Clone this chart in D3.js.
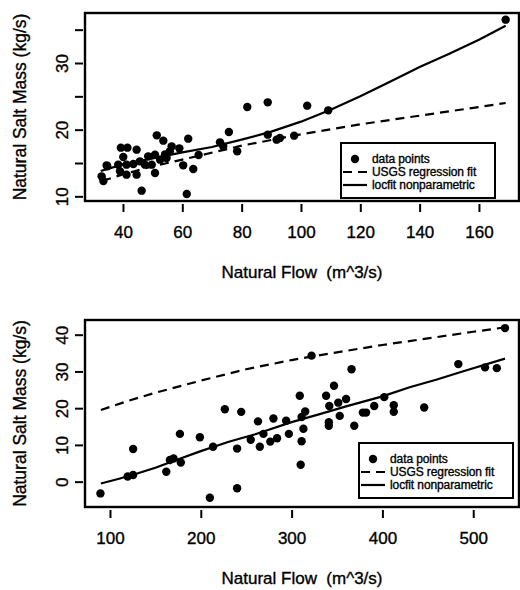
<!DOCTYPE html>
<html>
<head>
<meta charset="utf-8">
<script src="https://cdnjs.cloudflare.com/ajax/libs/d3/7.8.5/d3.min.js"></script>
<style>
    body { margin: 0; background: #ffffff; }
    text { font-family: "Liberation Sans", Arial, sans-serif; fill: #000; white-space: pre; }
</style>
</head>
<body>
<div id="chart"></div>
<script>
(function () {

    // ---- top panel data ----
    var top_flow = [32.8, 33.4, 34.5, 34.7, 38.4, 39.0, 39.3, 40.1, 41.2, 41.2, 41.5, 43.5, 44.6,
        44.6, 45.7, 46.3, 47.4, 48.5, 49.7, 50.8, 50.8, 51.4, 52.5, 53.6, 54.2, 54.7, 55.8,
        56.4, 59.0, 60.3, 61.5, 62.0, 63.7, 65.5, 72.7, 73.8, 75.7, 78.5, 81.9, 88.8, 88.8,
        91.8, 92.9, 97.7, 102.1, 109.2, 169.0];
    var top_salt = [13.0, 12.3, 14.65, 14.5, 14.75, 13.75, 17.3, 15.9, 14.75, 13.25, 17.3, 14.85, 17.0,
        13.25, 15.25, 10.85, 14.75, 16.0, 14.75, 16.25, 13.5, 19.15, 15.5, 18.35, 16.3, 15.75, 16.75,
        17.5, 17.2, 14.65, 10.35, 18.65, 14.1, 16.2, 18.1, 17.5, 19.65, 16.75, 23.4, 24.1, 19.25,
        18.5, 18.75, 19.1, 23.6, 22.9, 36.5];
    var top_usgs_x = [33, 40, 50, 60, 80, 100, 120, 140, 160, 169];
    var top_usgs_y = [12.3, 13.3, 14.5, 15.5, 17.6, 19.3, 20.8, 22.1, 23.4, 24.0];
    var top_locfit_x = [32.5, 40, 50, 60, 70, 80, 90, 100, 110, 120, 130, 140, 150, 160, 169];
    var top_locfit_y = [13.8, 14.8, 15.7, 16.6, 17.4, 18.5, 19.7, 21.2, 23.0, 25.0, 27.2, 29.4, 31.4, 33.5, 35.6];
    var top_x_ticks = [40, 60, 80, 100, 120, 140, 160];
    var top_y_ticks = [10, 15, 20, 25, 30, 35];
    var top_y_labels = [10, 20, 30];

    // ---- bottom panel data ----
    var bot_flow = [89.5, 119.5, 125.5, 125.5, 162, 166, 170, 178, 177, 199, 213.5, 210, 240, 240,
        226.5, 244.5, 255, 263, 265, 269, 276.5, 280, 284, 294, 297, 309, 311, 313, 315, 311, 310,
        322, 338, 346.7, 341.5, 351.4, 360, 353, 341, 341, 366, 369, 378.5, 382, 391, 402, 412.5,
        412.5, 446, 483.6, 513, 526, 535];
    var bot_salt = [-3.2, 1.4, 1.8, 8.9, 2.7, 5.9, 6.3, 5.2, 13.0, 12.1, 9.5, -4.4, -1.8, 9.0,
        19.7, 19.0, 11.4, 16.4, 9.5, 13.0, 10.9, 17.2, 11.8, 16.6, 13.0, 23.4, 11.0, 14.4, 19.1, 17.6, 4.6,
        34.3, 23.4, 26.1, 20.6, 21.5, 22.5, 17.9, 16.2, 15.2, 30.6, 15.2, 18.8, 18.8, 20.6, 23.0, 20.8,
        19.0, 20.2, 32.0, 31.1, 30.9, 41.8];
    var bot_usgs_x = [90, 120, 150, 200, 250, 300, 350, 400, 450, 500, 535];
    var bot_usgs_y = [19.5, 22.0, 24.2, 27.5, 30.6, 33.1, 35.2, 37.2, 39.0, 40.8, 42.0];
    var bot_locfit_x = [90, 110, 130, 150, 170, 200, 230, 260, 300, 330, 360, 400, 430, 460, 490, 535];
    var bot_locfit_y = [-0.5, 0.8, 2.2, 3.8, 5.6, 8.3, 10.8, 12.9, 16.2, 18.3, 20.5, 23.2, 25.7, 27.8, 30.1, 33.5];
    var bot_x_ticks = [100, 200, 300, 400, 500];
    var bot_y_ticks = [0, 10, 20, 30, 40];
    var bot_y_labels = [0, 10, 20, 30, 40];

    var legend_labels = ["data points", "USGS regression fit", "locfit nonparametric"];
    var x_title = "Natural Flow  (m^3/s)";
    var y_title = "Natural Salt Mass (kg/s)";

    var svg = d3.select("#chart").append("svg")
        .attr("width", 520)
        .attr("height", 590);

    svg.append("rect").attr("width", 520).attr("height", 590).attr("fill", "#fff");

    function zip(xs, ys) {
        return xs.map(function (d, i) { return { x: d, y: ys[i] }; });
    }

    function heavy(sel) {
        // the scanned original has slightly bolder type
        sel.attr("stroke", "#000").attr("stroke-width", 0.35);
    }

    function panel(p) {
        var x = d3.scaleLinear().domain(p.xDomain).range([p.left, p.right]);
        var y = d3.scaleLinear().domain(p.yDomain).range([p.bottom, p.top]);
        var g = svg.append("g");

        var line = d3.line()
            .x(function (d) { return x(d.x); })
            .y(function (d) { return y(d.y); });

        g.append("path")
            .datum(zip(p.usgsX, p.usgsY))
            .attr("d", line)
            .attr("fill", "none")
            .attr("stroke", "#000")
            .attr("stroke-width", 2.2)
            .attr("stroke-dasharray", "9,6");

        g.append("path")
            .datum(zip(p.locX, p.locY))
            .attr("d", line)
            .attr("fill", "none")
            .attr("stroke", "#000")
            .attr("stroke-width", 2.2);

        g.selectAll("circle.pt")
            .data(zip(p.flow, p.salt))
            .enter()
            .append("circle")
            .attr("class", "pt")
            .attr("cx", function (d) { return x(d.x); })
            .attr("cy", function (d) { return y(d.y); })
            .attr("r", 4.2)
            .attr("fill", "#000");

        // plot box
        g.append("rect")
            .attr("x", p.left).attr("y", p.top)
            .attr("width", p.right - p.left).attr("height", p.bottom - p.top)
            .attr("fill", "none").attr("stroke", "#000").attr("stroke-width", 2.4);

        // x axis: ticks only, set below the box
        var xAxis = d3.axisBottom(x).tickValues(p.xTicks).tickSize(8).tickPadding(14);
        var xg = g.append("g").attr("transform", "translate(0," + (p.bottom + 3) + ")").call(xAxis);
        xg.select(".domain").remove();
        xg.selectAll(".tick line").attr("stroke-width", 2);
        xg.selectAll(".tick text").attr("font-size", 17).attr("font-family", "Liberation Sans, Arial").call(heavy);

        var yAxis = d3.axisLeft(y).tickValues(p.yTicks).tickSize(8).tickPadding(0)
            .tickFormat(function (d) { return p.yLabels.indexOf(d) >= 0 ? d : ""; });
        var yg = g.append("g").attr("transform", "translate(" + (p.left - 2) + ",0)").call(yAxis);
        yg.select(".domain").remove();
        yg.selectAll(".tick line").attr("stroke-width", 2);
        yg.selectAll(".tick text")
            .attr("font-size", 17).attr("font-family", "Liberation Sans, Arial")
            .attr("x", 0).attr("dy", 0)
            .attr("text-anchor", "middle")
            .attr("transform", "translate(-15,0) rotate(-90)")
            .call(heavy);

        g.append("text")
            .attr("x", (p.left + p.right) / 2)
            .attr("y", p.bottom + 77)
            .attr("text-anchor", "middle")
            .attr("font-size", 17)
            .text(x_title)
            .call(heavy);

        g.append("text")
            .attr("transform", "translate(" + (p.left - 59) + "," + ((p.top + p.bottom) / 2) + ") rotate(-90)")
            .attr("text-anchor", "middle")
            .attr("font-size", 17.5)
            .text(y_title)
            .call(heavy);

        // legend
        var lg = g.append("g").attr("transform", "translate(" + p.legX + "," + p.legY + ")");
        lg.append("rect")
            .attr("width", 154).attr("height", 55)
            .attr("fill", "#fff").attr("stroke", "#000").attr("stroke-width", 2);
        var rows = [16, 29, 42];
        lg.append("circle").attr("cx", 14).attr("cy", rows[0]).attr("r", 4.2).attr("fill", "#000");
        lg.append("line").attr("x1", 2).attr("x2", 26).attr("y1", rows[1]).attr("y2", rows[1])
            .attr("stroke", "#000").attr("stroke-width", 2.2).attr("stroke-dasharray", "9,6");
        lg.append("line").attr("x1", 2).attr("x2", 26).attr("y1", rows[2]).attr("y2", rows[2])
            .attr("stroke", "#000").attr("stroke-width", 2.2);
        lg.selectAll("text.leg")
            .data(legend_labels)
            .enter()
            .append("text")
            .attr("class", "leg")
            .attr("x", 31)
            .attr("y", function (d, i) { return rows[i] + 4; })
            .attr("font-size", 12)
            .attr("letter-spacing", -0.1)
            .text(function (d) { return d; })
            .call(heavy);
    }

    panel({
        left: 85, right: 519, top: 13, bottom: 201,
        xDomain: [27.2, 173.5], yDomain: [9.3, 37.5],
        flow: top_flow, salt: top_salt,
        usgsX: top_usgs_x, usgsY: top_usgs_y,
        locX: top_locfit_x, locY: top_locfit_y,
        xTicks: top_x_ticks, yTicks: top_y_ticks, yLabels: top_y_labels,
        legX: 341, legY: 143
    });

    panel({
        left: 85, right: 519, top: 320, bottom: 507,
        xDomain: [72.5, 550.4], yDomain: [-6.9, 44.0],
        flow: bot_flow, salt: bot_salt,
        usgsX: bot_usgs_x, usgsY: bot_usgs_y,
        locX: bot_locfit_x, locY: bot_locfit_y,
        xTicks: bot_x_ticks, yTicks: bot_y_ticks, yLabels: bot_y_labels,
        legX: 359, legY: 443
    });
})();
</script>
</body>
</html>
